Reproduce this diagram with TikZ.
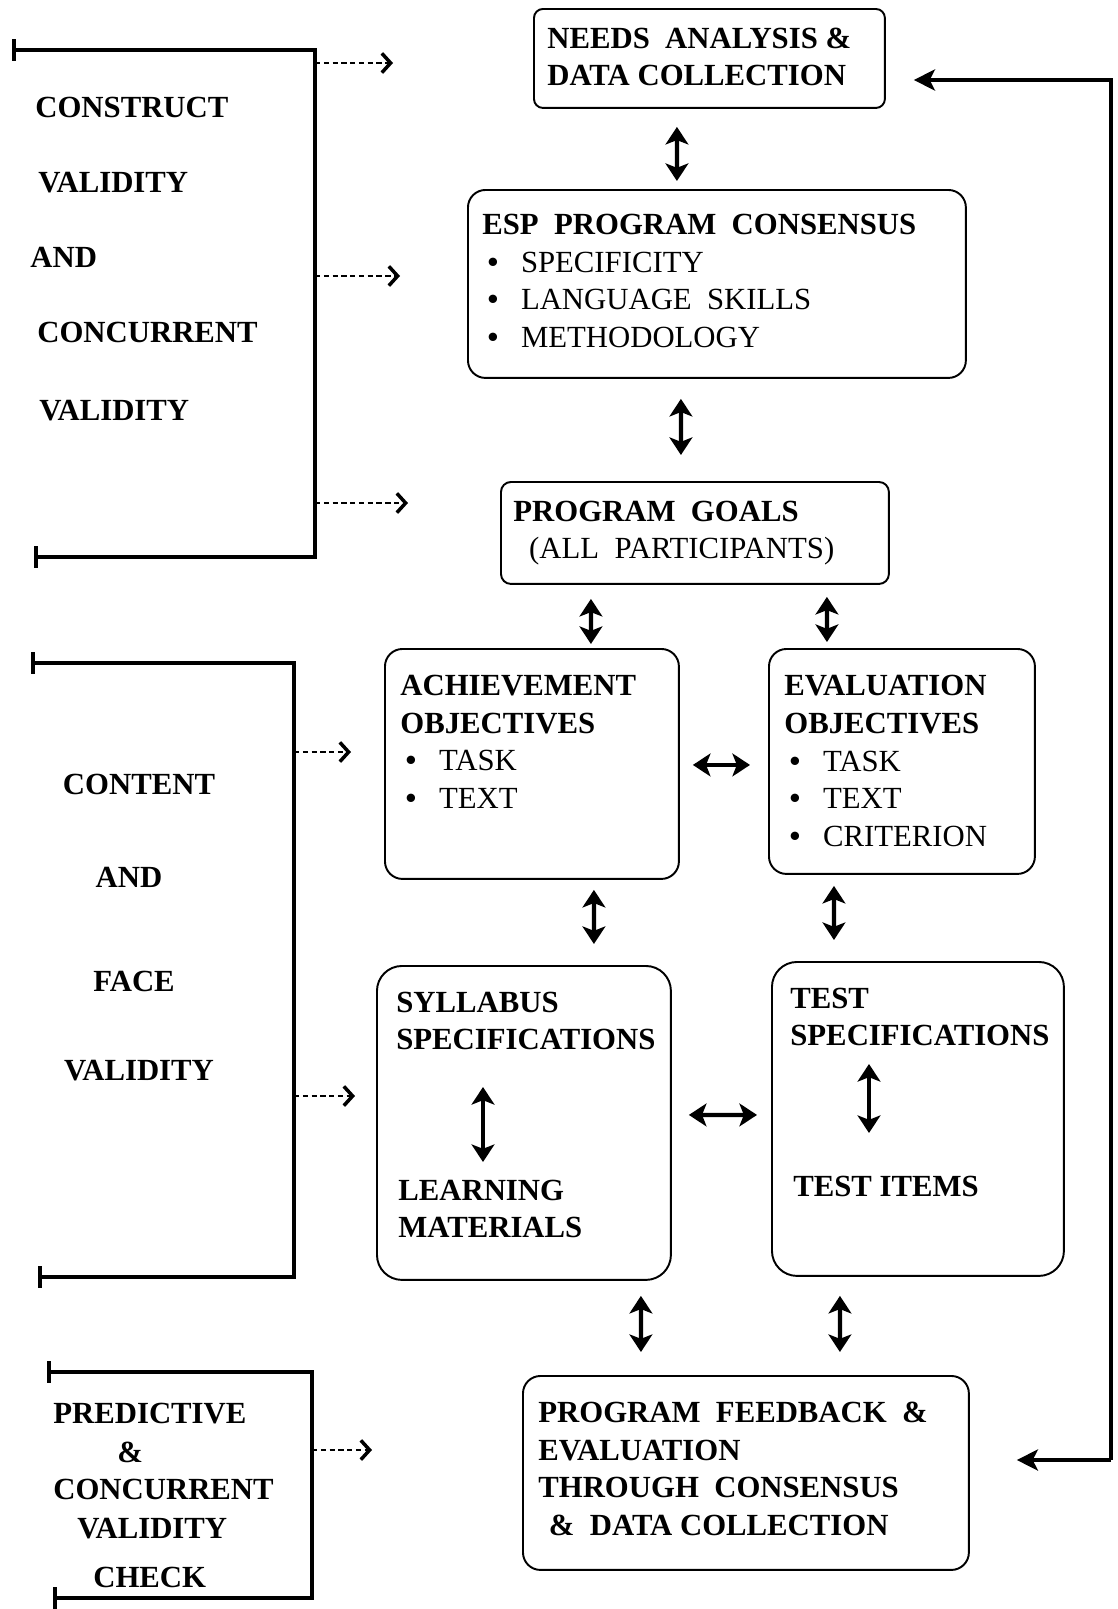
\documentclass[tikz,border=0pt]{standalone}
\usepackage{fontspec}
\setmainfont{Liberation Serif}
\usetikzlibrary{arrows.meta}
\newcommand{\itembul}[1]{\hspace*{3pt}\makebox[19pt][l]{\textbullet}\textmd{#1}}

\begin{document}
\begin{tikzpicture}[x=0.02cm, y=-0.02cm,
    box/.style={draw, line width=1.1pt, rounded corners=0.35cm, anchor=north west, inner sep=0pt},
    txt/.style={anchor=west, align=left, inner sep=0pt, font=\fontsize{17.5}{21.4}\selectfont\bfseries},
    dbl/.style={line width=2.4pt, {Stealth[length=10pt,width=13pt,inset=2.5pt]}-{Stealth[length=10pt,width=13pt,inset=2.5pt]}},
    dotarr/.style={line width=0.6pt, densely dashed, -{Straight Barb[length=5pt,width=11pt,line width=2pt]}},
    brk/.style={line width=2.4pt, {Bar[width=12pt]}-{Bar[width=12pt]}},
    loopline/.style={line width=2.4pt}]
  \useasboundingbox (0,0) rectangle (1117,1609);

  % boxes
  \node[box, rounded corners=0.18cm, minimum width=7.02cm, minimum height=1.98cm] (needs) at (533,8) {};
  \node[box, minimum width=9.96cm, minimum height=3.76cm] (esp) at (467,189) {};
  \node[box, rounded corners=0.2cm, minimum width=7.76cm, minimum height=2.04cm] (goals) at (500,481) {};
  \node[box, minimum width=5.88cm, minimum height=4.6cm] (ach) at (384,648) {};
  \node[box, minimum width=5.32cm, minimum height=4.5cm] (eval) at (768,648) {};
  \node[box, rounded corners=0.5cm, minimum width=5.88cm, minimum height=6.28cm] (syl) at (376,965) {};
  \node[box, rounded corners=0.5cm, minimum width=5.84cm, minimum height=6.28cm] (test) at (771,961) {};
  \node[box, minimum width=8.92cm, minimum height=3.88cm] (fb) at (522,1375) {};

  % box texts
  \node[txt] (needsT) at (547,57) {NEEDS~~ANALYSIS \&\\DATA COLLECTION};
  \node[txt] (espT) at (482,281) {ESP~~PROGRAM~~CONSENSUS\\\itembul{SPECIFICITY}\\\itembul{LANGUAGE~~SKILLS}\\\itembul{METHODOLOGY}};
  \node[txt] (goalsT) at (513,533) {PROGRAM~~GOALS\\\hspace*{9pt}\textmd{(ALL~~PARTICIPANTS)}};
  \node[txt] (achT) at (400,742) {ACHIEVEMENT\\OBJECTIVES\\\itembul{TASK}\\\itembul{TEXT}};
  \node[txt] (evalT) at (784,761) {EVALUATION\\OBJECTIVES\\\itembul{TASK}\\\itembul{TEXT}\\\itembul{CRITERION}};
  \node[txt] (sylA) at (396,1021) {SYLLABUS\\SPECIFICATIONS};
  \node[txt] (sylB) at (398,1209) {LEARNING\\MATERIALS};
  \node[txt] (testA) at (790,1017) {TEST\\SPECIFICATIONS};
  \node[txt] (testB) at (793,1186) {TEST ITEMS};
  \node[txt] (fbT) at (538,1469) {PROGRAM~~FEEDBACK~~\&\\EVALUATION\\THROUGH~~CONSENSUS\\\hspace*{6pt}\&~~DATA COLLECTION};

  % links between boxes
  \draw[dbl, shorten <=0.36cm, shorten >=0.16cm] ([xshift=-0.65cm]needs.south) -- ([xshift=-0.8cm]esp.north);
  \draw[dbl, shorten <=0.4cm, shorten >=0.52cm] ([xshift=-0.72cm]esp.south) -- ([xshift=-0.28cm]goals.north);
  \draw[dbl, shorten <=0.28cm, shorten >=0.08cm] ([xshift=-2.08cm]goals.south) -- ([xshift=1.18cm]ach.north);
  \draw[dbl, shorten <=0.24cm, shorten >=0.12cm] ([xshift=2.64cm]goals.south) -- ([xshift=-1.5cm]eval.north);
  \draw[dbl, shorten <=0.2cm, shorten >=0.42cm] ([xshift=1.24cm]ach.south) -- ([xshift=1.4cm]syl.north);
  \draw[dbl, shorten <=0.22cm, shorten >=0.42cm] ([xshift=-1.36cm]eval.south) -- ([xshift=-1.68cm]test.north);
  \draw[dbl, shorten <=0.3cm, shorten >=0.46cm] ([xshift=2.34cm]syl.south) -- ([xshift=-2.1cm]fb.north);
  \draw[dbl, shorten <=0.38cm, shorten >=0.46cm] ([xshift=-1.56cm]test.south) -- ([xshift=1.88cm]fb.north);
  \draw[dbl, shorten <=0.26cm, shorten >=0.36cm] ([yshift=-0.02cm]ach.east) -- ([yshift=-0.07cm]eval.west);
  \draw[dbl, shorten <=0.34cm, shorten >=0.28cm] ([yshift=0.16cm]syl.east) -- ([yshift=0.08cm]test.west);

  % links inside the lower boxes
  \coordinate (sylU) at (483,1087);
  \coordinate (sylD) at (483,1162);
  \coordinate (testU) at (869,1064);
  \coordinate (testD) at (869,1133);
  \draw[dbl] (sylU) -- (sylD);
  \draw[dbl] (testU) -- (testD);

  % feedback loop on the right
  \coordinate (loopT) at (1111,80);
  \coordinate (loopB) at (1111,1460);
  \draw[loopline, -{Stealth[length=12pt,width=12pt,inset=3pt]}, shorten >=0.56cm] (loopB) -- (loopT) -- (loopT -| needs.east);
  \draw[loopline, -{Stealth[length=12pt,width=12pt,inset=3pt]}, shorten >=0.94cm] (loopB) -- (loopB -| fb.east);

  % validity brackets
  \draw[brk] (12,50) -| (315,557) -- (34,557);
  \draw[brk] (31,663) -| (294,1277) -- (38,1277);
  \draw[brk] (47,1372) -| (312,1598) -- (53,1598);

  \foreach \x/\y/\e [count=\i] in {315/63/393, 315/276/400, 315/503/408, 294/752/351, 294/1096/355, 312/1450/372} {
    \coordinate (from\i) at (\x,\y);
    \coordinate (to\i) at (\e,\y);
    \draw[dotarr] (from\i) -- (to\i);
  }

  \node[txt] (c1) at (35,107) {CONSTRUCT};
  \node[txt] (c2) at (38,183) {VALIDITY};
  \node[txt] (c3) at (30,257) {AND};
  \node[txt] (c4) at (37,332) {CONCURRENT};
  \node[txt] (c5) at (39,411) {VALIDITY};

  \node[txt, anchor=center] (f1) at (139,784) {CONTENT};
  \node[txt, anchor=center] (f2) at (129,877) {AND};
  \node[txt, anchor=center] (f3) at (134,981) {FACE};
  \node[txt, anchor=center] (f4) at (139,1071) {VALIDITY};

  \node[txt] (p1) at (53,1414) {PREDICTIVE};
  \node[txt] (p2) at (117,1452) {\&};
  \node[txt] (p3) at (53,1489) {CONCURRENT};
  \node[txt] (p4) at (77,1529) {VALIDITY};
  \node[txt] (p5) at (93,1577) {CHECK};
\end{tikzpicture}
\end{document}
